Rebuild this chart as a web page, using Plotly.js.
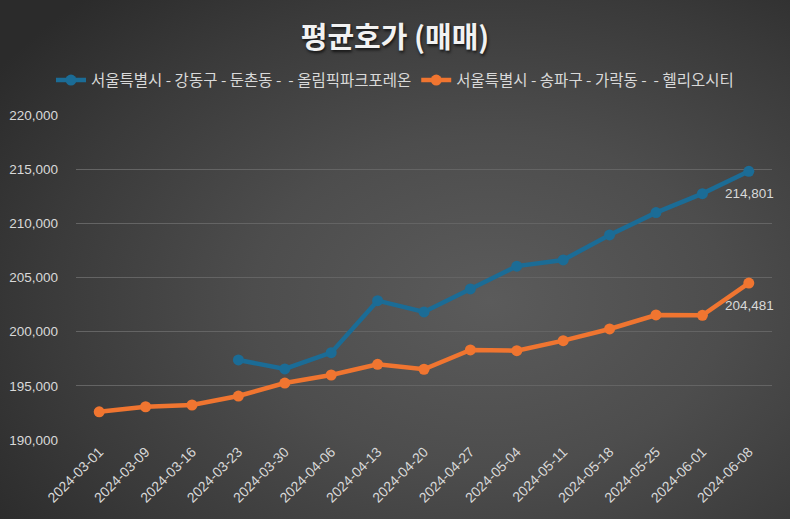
<!DOCTYPE html>
<html>
<head>
<meta charset="utf-8">
<script src="https://cdn.plot.ly/plotly-3.0.1.min.js"></script>
<style>
  html, body { margin:0; padding:0; }
  body { width:790px; height:519px; overflow:hidden;
    background: radial-gradient(ellipse 75% 80% at 62% 58%, #5b5b5b 0%, #4d4d4d 40%, #3a3a3a 75%, #2b2b2b 100%); }
  #chart { width:790px; height:519px; }
</style>
</head>
<body>
<div id="chart"></div>
<script>
const categories = ["2024-03-01","2024-03-09","2024-03-16","2024-03-23","2024-03-30","2024-04-06","2024-04-13","2024-04-20","2024-04-27","2024-05-04","2024-05-11","2024-05-18","2024-05-25","2024-06-01","2024-06-08"];
const seriesNames = ["서울특별시 - 강동구 - 둔촌동 -  - 올림픽파크포레온", "서울특별시 - 송파구 - 가락동 -  - 헬리오시티"];
const olympicValues = [null, null, null, 197390, 196560, 198060, 202860, 201820, 203940, 206050, 206620, 208930, 210990, 212740, 214801];
const helioValues = [192600, 193070, 193230, 194060, 195260, 196000, 196990, 196530, 198310, 198250, 199170, 200250, 201540, 201510, 204481];
const yTicks = [190000, 195000, 200000, 205000, 210000, 215000, 220000];
const colors = ["#1b6c96", "#f07530"];
const allSeries = [olympicValues, helioValues];

const traces = allSeries.map((vals, k) => ({
  type: 'scatter',
  mode: 'lines+markers',
  x: categories,
  y: vals,
  name: seriesNames[k],
  line: {color: colors[k], width: 4.5},
  marker: {color: colors[k], size: 11},
  connectgaps: false,
  hoverinfo: 'x+y'
}));

const annotations = allSeries.map(vals => {
  const i = vals.length - 1;
  return {
    x: categories[i], y: vals[i], xref: 'x', yref: 'y',
    text: vals[i].toLocaleString('en-US'),
    showarrow: false, yshift: -22, xshift: 1,
    font: {family: 'Liberation Sans, Arial, sans-serif', size: 13.5, color: '#d9d9d9'}
  };
});

const layout = {
  width: 790, height: 519,
  paper_bgcolor: 'rgba(0,0,0,0)',
  plot_bgcolor: 'rgba(0,0,0,0)',
  margin: {l: 76, r: 18, t: 115, b: 79},
  title: {
    text: '<b>평균호가 (매매)</b>',
    x: 0.5, xanchor: 'center', y: 0.928, yanchor: 'middle',
    font: {family: 'Noto Sans CJK KR, sans-serif', size: 29, color: '#f2f2f2', shadow: '1px 2px 3px rgba(0,0,0,0.7)'}
  },
  showlegend: true,
  legend: {
    orientation: 'h', xref: 'container', yref: 'container',
    x: 0.5, xanchor: 'center', y: 0.845, yanchor: 'middle',
    font: {family: 'Noto Sans CJK KR, sans-serif', size: 15.5, color: '#d9d9d9'},
    itemwidth: 30, tracegroupgap: 0
  },
  annotations: annotations,
  xaxis: {
    type: 'category',
    tickangle: -45,
    tickfont: {family: 'Liberation Sans, Arial, sans-serif', size: 14, color: '#d9d9d9'},
    showgrid: false, zeroline: false, showline: false, ticks: '',
    range: [-0.5, categories.length - 0.5],
    fixedrange: true
  },
  yaxis: {
    range: [190000, 220000],
    tickvals: yTicks,
    ticktext: yTicks.map(v => v.toLocaleString('en-US')),
    tickfont: {family: 'Liberation Sans, Arial, sans-serif', size: 13.5, color: '#d9d9d9'},
    gridcolor: '#646464', gridwidth: 1,
    zeroline: false, showline: false, ticks: '',
    ticklabelstandoff: 17,
    fixedrange: true
  }
};

Plotly.newPlot('chart', traces, layout, {displayModeBar: false, staticPlot: true});
</script>
</body>
</html>
